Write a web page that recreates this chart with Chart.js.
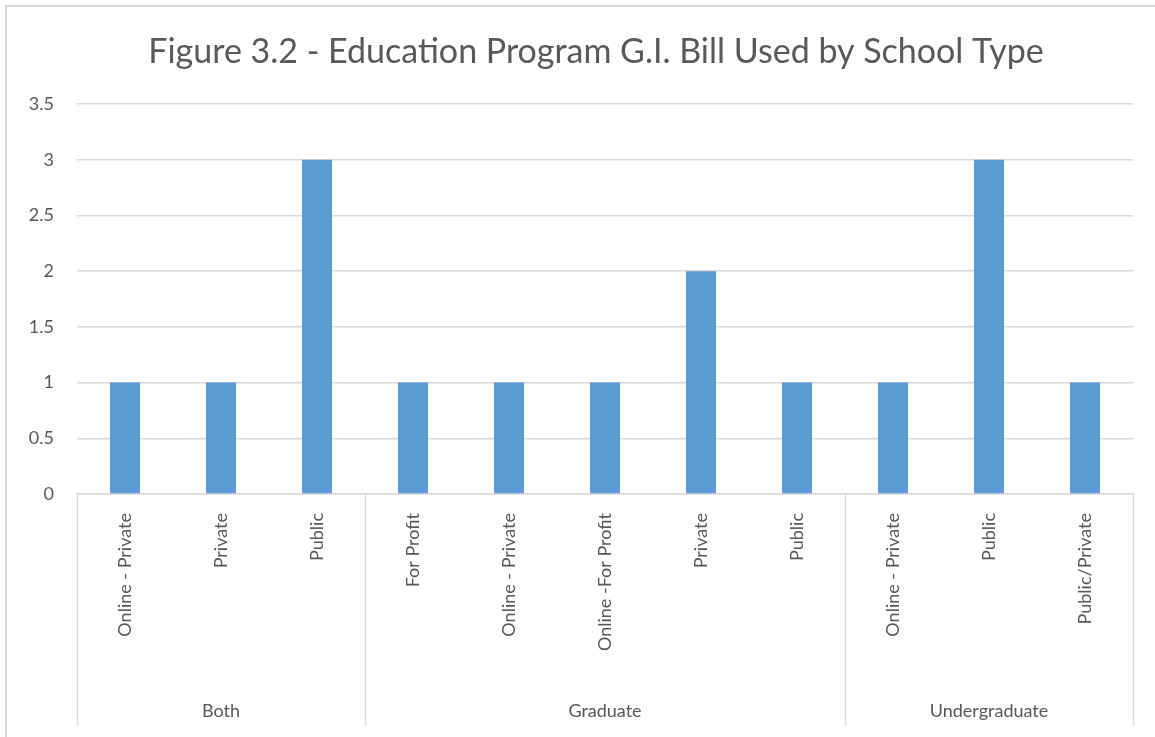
<!DOCTYPE html>
<html>
<head>
<meta charset="utf-8">
<script src="https://cdn.jsdelivr.net/npm/chart.js@4"></script>
<style>
  html, body { margin: 0; padding: 0; background: #fff; }
  #wrap { position: relative; width: 1155px; height: 737px; }
</style>
</head>
<body>
<div id="wrap"><canvas id="c" width="1155" height="737"></canvas></div>
<script>
// School types within each program level
const schoolTypes = [
  'Online - Private', 'Private', 'Public',
  'For Profit', 'Online - Private', 'Online -For Profit', 'Private', 'Public',
  'Online - Private', 'Public', 'Public/Private'
];
// Program level for each school type
const programs = ['Both', 'Graduate', 'Undergraduate'];
const programSizes = [3, 5, 3];
// Number of students using the G.I. Bill
const counts = [1, 1, 3, 1, 1, 1, 2, 1, 1, 3, 1];
// Value axis ticks
const yTicks = [0, 0.5, 1, 1.5, 2, 2.5, 3, 3.5];
const titleText = 'Figure 3.2 - Education Program G.I. Bill Used by School Type';

const FONT = 'Lato, "Open Sans", sans-serif';
const TEXT = '#595959';
const LINE = '#d9d9d9';

// Frame, title, program group separators and group labels
const groupAxis = {
  id: 'groupAxis',
  beforeDraw(chart) {
    const ctx = chart.ctx;
    ctx.save();
    ctx.strokeStyle = LINE;
    ctx.lineWidth = 2;
    ctx.beginPath();
    ctx.moveTo(6, chart.height);
    ctx.lineTo(6, 6);
    ctx.lineTo(chart.width, 6);
    ctx.stroke();
    ctx.fillStyle = TEXT;
    ctx.font = '34px ' + FONT;
    ctx.textAlign = 'center';
    ctx.textBaseline = 'middle';
    ctx.fillText(titleText, 596, 52);
    ctx.restore();
  },
  afterDraw(chart) {
    const ctx = chart.ctx;
    const x = chart.scales.x;
    const area = chart.chartArea;
    const step = x.getPixelForValue(1) - x.getPixelForValue(0);
    ctx.save();
    ctx.strokeStyle = LINE;
    ctx.lineWidth = 1.5;
    ctx.fillStyle = TEXT;
    ctx.font = '18px ' + FONT;
    ctx.textAlign = 'center';
    ctx.textBaseline = 'middle';
    let start = 0;
    const edges = [x.getPixelForValue(0) - step / 2];
    programSizes.forEach((n, g) => {
      const left = x.getPixelForValue(start) - step / 2;
      const right = x.getPixelForValue(start + n - 1) + step / 2;
      edges.push(right);
      ctx.fillText(programs[g], (left + right) / 2, 711);
      start += n;
    });
    edges.forEach(px => {
      ctx.beginPath();
      ctx.moveTo(Math.round(px) + 0.5, area.bottom);
      ctx.lineTo(Math.round(px) + 0.5, 726);
      ctx.stroke();
    });
    ctx.restore();
  }
};

new Chart(document.getElementById('c'), {
  type: 'bar',
  data: {
    labels: schoolTypes,
    datasets: [{
      data: counts,
      backgroundColor: '#5b9bd5',
      categoryPercentage: 1,
      barPercentage: 0.3125
    }]
  },
  options: {
    responsive: false,
    animation: false,
    layout: { padding: { top: 104, left: 0, right: 22, bottom: 0 } },
    plugins: {
      legend: { display: false },
      tooltip: { enabled: false },
      title: { display: false }
    },
    scales: {
      x: {
        grid: { display: false },
        border: { display: true, color: LINE, width: 1.5 },
        ticks: {
          color: TEXT,
          font: { family: FONT, size: 18 },
          minRotation: 90,
          maxRotation: 90,
          autoSkip: false,
          padding: 11
        },
        afterFit(scale) { scale.height = 243; }
      },
      y: {
        min: 0,
        max: 3.5,
        afterBuildTicks(scale) { scale.ticks = yTicks.map(v => ({ value: v })); },
        grid: { color: LINE, lineWidth: 1.5, drawTicks: false },
        border: { display: false },
        ticks: {
          color: TEXT,
          font: { family: FONT, size: 18 },
          padding: 23,
          callback: v => String(v)
        },
        afterFit(scale) { scale.width = 77; }
      }
    }
  },
  plugins: [groupAxis]
});
</script>
</body>
</html>
